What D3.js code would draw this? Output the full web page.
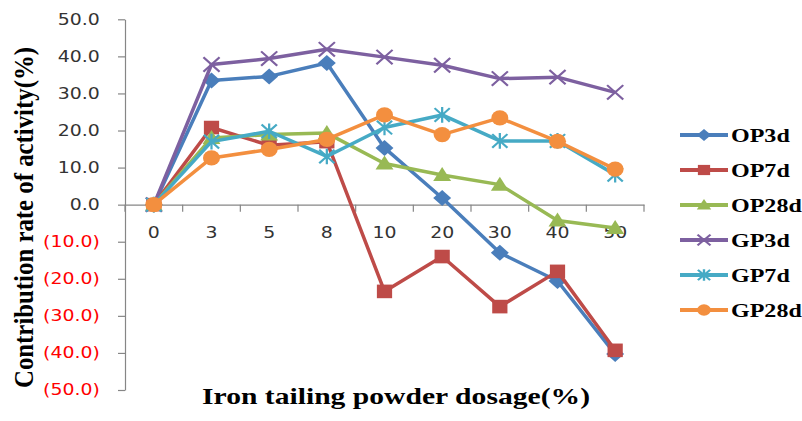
<!DOCTYPE html>
<html>
<head>
<meta charset="utf-8">
<script src="https://cdn.jsdelivr.net/npm/d3@7/dist/d3.min.js"></script>
<style>
  body { margin: 0; background: #fff; }
  svg { display: block; }
</style>
</head>
<body>
<svg id="chart" width="802" height="421"></svg>
<script>
// ---- Data ----
const categories = ["0", "3", "5", "8", "10", "20", "30", "40", "50"];
const OP3d  = [0, 33.5, 34.6, 38.2, 15.3, 1.8, -13.0, -20.6, -40.3];
const OP7d  = [0, 20.8, 16.0, 17.0, -23.4, -14.0, -27.5, -18.0, -39.3];
const OP28d = [0, 18.0, 18.9, 19.3, 11.1, 8.0, 5.4, -4.3, -6.3];
const GP3d  = [0, 37.8, 39.4, 41.9, 39.8, 37.6, 34.0, 34.4, 30.3];
const GP7d  = [0, 17.0, 19.8, 13.0, 20.8, 24.2, 17.2, 17.2, 8.1];
const GP28d = [0, 12.6, 14.9, 17.6, 24.2, 18.9, 23.4, 17.1, 9.6];
const seriesNames = ["OP3d", "OP7d", "OP28d", "GP3d", "GP7d", "GP28d"];
const seriesValues = [OP3d, OP7d, OP28d, GP3d, GP7d, GP28d];
const seriesColors = ["#4a7ebb", "#be4b48", "#98b954", "#7d60a0", "#46aac5", "#f38f3f"];
const markerTypes = ["diamond", "square", "triangle", "x", "star", "circle"];
const yTicks = [-50, -40, -30, -20, -10, 0, 10, 20, 30, 40, 50];
const xTitle = "Iron tailing powder dosage(%)";
const yTitle = "Contribution rate of activity(%)";

// ---- Layout ----
const svg = d3.select("#chart");
const SX = 1.26; // horizontal stretch of text in reference
const x = d3.scaleBand().domain(categories).range([125, 644]);
const y = d3.scaleLinear().domain([-50, 50]).range([390, 19.3]);
const axisColor = "#868686";

// Y axis
const yAxis = svg.append("g")
  .attr("transform", "translate(125,0)")
  .call(d3.axisLeft(y).tickValues(yTicks).tickSize(7).tickSizeOuter(0).tickPadding(13)
    .tickFormat(v => v < 0 ? "(" + (-v).toFixed(1) + ")" : v.toFixed(1)));
yAxis.select(".domain").attr("stroke", axisColor).attr("stroke-width", 1.2);
yAxis.selectAll(".tick line").attr("stroke", axisColor).attr("stroke-width", 1.2);
yAxis.selectAll(".tick text")
  .attr("font-family", "'DejaVu Sans', Verdana, sans-serif")
  .attr("font-size", 15)
  .attr("fill", v => v < 0 ? "#ff0000" : "#333")
  .attr("transform", `scale(${SX},1)`);

// X axis (at zero line)
const xAxis = svg.append("g")
  .attr("transform", `translate(0,${y(0)})`)
  .call(d3.axisBottom(x).tickSize(0).tickSizeOuter(0).tickPadding(23));
xAxis.select(".domain").attr("stroke", axisColor).attr("stroke-width", 1.2);
xAxis.selectAll(".tick text")
  .attr("font-family", "'DejaVu Sans', Verdana, sans-serif")
  .attr("font-size", 15)
  .attr("fill", "#333")
  .attr("transform", `scale(${SX},1)`);
// category boundary ticks
const bounds = categories.map(c => x(c)).concat([x.range()[1]]);
xAxis.selectAll(".btick").data(bounds).enter().append("line")
  .attr("x1", d => d).attr("x2", d => d).attr("y1", 0).attr("y2", 7)
  .attr("stroke", axisColor).attr("stroke-width", 1.2);

// ---- Markers ----
function drawMarker(g, type, color, s) {
  if (type === "diamond") {
    g.append("path").attr("d", `M0,${-s}L${s},0L0,${s}L${-s},0Z`).attr("fill", color);
  } else if (type === "square") {
    g.append("rect").attr("x", -s * 0.85).attr("y", -s * 0.85).attr("width", s * 1.7).attr("height", s * 1.7).attr("fill", color);
  } else if (type === "triangle") {
    g.append("path").attr("d", `M0,${-s}L${s},${s * 0.75}L${-s},${s * 0.75}Z`).attr("fill", color);
  } else if (type === "x") {
    const a = s * 0.9;
    g.append("path").attr("d", `M${-a},${-a}L${a},${a}M${-a},${a}L${a},${-a}`)
      .attr("stroke", color).attr("stroke-width", 2).attr("fill", "none");
  } else if (type === "star") {
    const a = s * 0.85;
    g.append("path").attr("d", `M${-a},${-a}L${a},${a}M${-a},${a}L${a},${-a}M0,${-a * 1.15}L0,${a * 1.15}`)
      .attr("stroke", color).attr("stroke-width", 2).attr("fill", "none");
  } else if (type === "circle") {
    g.append("circle").attr("r", s * 0.95).attr("fill", color);
  }
}

// ---- Series ----
const line = d3.line().x((d, i) => x(categories[i]) + x.bandwidth() / 2).y(d => y(d));
seriesValues.forEach((vals, si) => {
  const color = seriesColors[si];
  const g = svg.append("g");
  g.append("path").datum(vals).attr("d", line)
    .attr("fill", "none").attr("stroke", color).attr("stroke-width", 3.5)
    .attr("stroke-linejoin", "round");
  vals.forEach((v, i) => {
    const mg = g.append("g")
      .attr("transform", `translate(${x(categories[i]) + x.bandwidth() / 2},${y(v)}) scale(1.12,1)`);
    drawMarker(mg, markerTypes[si], color, 8);
  });
});

// ---- Legend ----
const legendY = [135, 170, 205, 240, 275, 310];
seriesNames.forEach((name, si) => {
  const color = seriesColors[si];
  const ly = legendY[si];
  const g = svg.append("g");
  g.append("line").attr("x1", 680).attr("x2", 728).attr("y1", ly).attr("y2", ly)
    .attr("stroke", color).attr("stroke-width", 4);
  const mg = g.append("g").attr("transform", `translate(704,${ly}) scale(1.2,1)`);
  drawMarker(mg, markerTypes[si], color, 6);
  g.append("text")
    .attr("transform", `translate(731,${ly + 6.5}) scale(1.3,1)`)
    .attr("font-family", "'Liberation Serif', 'Times New Roman', serif")
    .attr("font-weight", "bold").attr("font-size", 18.5).attr("fill", "#000")
    .text(name);
});

// ---- Titles ----
svg.append("text")
  .attr("x", 202).attr("y", 404)
  .attr("textLength", 388).attr("lengthAdjust", "spacingAndGlyphs")
  .attr("font-family", "'Liberation Serif', 'Times New Roman', serif")
  .attr("font-weight", "bold").attr("font-size", 23).attr("fill", "#000")
  .text(xTitle);

svg.append("text")
  .attr("transform", "translate(33,388) rotate(-90) scale(1,1.25)")
  .attr("x", 0).attr("y", 0)
  .attr("textLength", 341).attr("lengthAdjust", "spacingAndGlyphs")
  .attr("font-family", "'Liberation Serif', 'Times New Roman', serif")
  .attr("font-weight", "bold").attr("font-size", 22).attr("fill", "#000")
  .text(yTitle);
</script>
</body>
</html>
